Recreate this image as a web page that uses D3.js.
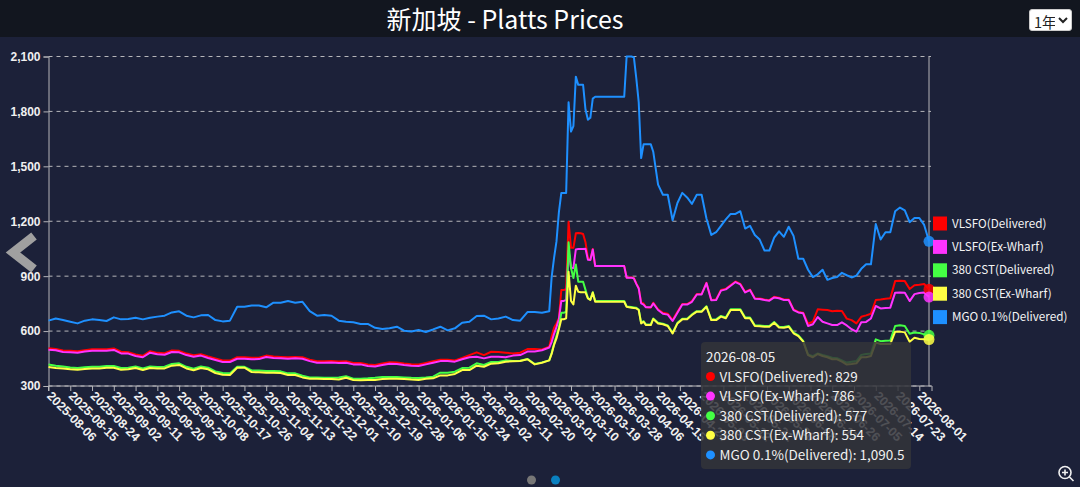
<!DOCTYPE html>
<html>
<head>
<meta charset="utf-8">
<script src="https://cdn.jsdelivr.net/npm/d3@7/dist/d3.min.js"></script>
<style>
body { margin: 0; background: #1c2139; overflow: hidden; }
svg { display: block; font-family: "Noto Sans CJK SC", "Noto Sans", sans-serif; }
.axis text { fill: #f0f0f0; font-size: 12px; font-weight: 700; }
.axis path, .axis line { stroke: #b5b5b9; }
.grid line { stroke: #b5b5b9; stroke-dasharray: 4 4; }
.line { fill: none; stroke-width: 2; stroke-linejoin: round; }
#range { position: absolute; left: 1029px; top: 9px; width: 43px; height: 22px; font-size: 14.5px; padding: 0; border: 1px solid #ccc; border-radius: 3px; background: #fff; color: #222; font-family: "Noto Sans CJK SC", sans-serif; }
</style>
</head>
<body>
<svg id="chart" width="1080" height="487"></svg>
<select id="range"><option>1年</option></select>
<script>
var startDate = new Date(2025, 7, 6);

var sampleDays = [
    0,3,6,9,12,15,18,21,24,27,30,33,36,39,42,45,48,51,54,57,60,63,66,69,72,75,78,81,84,87,90,93,96,99,102,105,
    108,111,114,117,120,123,126,129,132,135,138,141,144,147,150,153,156,159,162,165,168,171,174,177,180,183,186,189,192,195,198,201,204,
    207,208,209,210,211,212,213,214,215,216,217,218,219,220,221,222,223,224,225,226,
    229,232,235,238,
    239,240,241,242,243,244,245,246,247,248,249,250,
    252,254,256,258,260,262,264,266,268,270,
    272,274,276,278,280,282,284,286,288,290,
    292,294,296,298,300,302,304,306,308,310,
    312,314,316,318,320,322,324,326,328,330,
    332,334,336,338,340,342,344,346,348,350,
    352,354,356,358,360,362,364
];

var xTickLabels = [
    "2025-08-06","2025-08-15","2025-08-24","2025-09-02","2025-09-11","2025-09-20","2025-09-29","2025-10-08","2025-10-17",
    "2025-10-26","2025-11-04","2025-11-13","2025-11-22","2025-12-01","2025-12-10","2025-12-19","2025-12-28","2026-01-06",
    "2026-01-15","2026-01-24","2026-02-02","2026-02-11","2026-02-20","2026-03-01","2026-03-10","2026-03-19","2026-03-28",
    "2026-04-06","2026-04-15","2026-04-24","2026-05-03","2026-05-12","2026-05-21","2026-05-30","2026-06-08","2026-06-17",
    "2026-06-26","2026-07-05","2026-07-14","2026-07-23","2026-08-01"
];
var yTicks = [300, 600, 900, 1200, 1500, 1800, 2100];

var seriesNames = ["VLSFO(Delivered)", "VLSFO(Ex-Wharf)", "380 CST(Delivered)", "380 CST(Ex-Wharf)", "MGO 0.1%(Delivered)"];
var seriesColors = ["#ff0000", "#ff33ff", "#44ff44", "#ffff44", "#1e90ff"];
var hoverDate = "2026-08-05";

var vlsfoDelivered = [
    506,502,494,492,490,496,501,501,501,505,487,485,472,465,490,481,479,494,492,477,
    468,474,461,450,439,439,457,457,454,455,466,461,459,457,459,457,
    444,435,435,437,434,435,426,426,417,415,423,430,428,423,419,417,426,435,444,444,440,453,469,484,469,487,486,482,478,482,502,502,500,
    515,570,618,642,670,824,824,830,1197,1055,1055,1134,1136,1134,1130,1085,1000,990,1048,955,
    955,955,955,955,
    893,893,893,890,860,835,757,751,731,729,729,755,
    719,700,695,660,706,748,748,764,802,802,
    864,770,773,824,831,851,871,858,814,827,
    780,778,773,769,787,782,773,773,718,705,
    700,640,652,719,717,715,708,711,710,668,
    660,642,678,686,695,770,773,777,779,873,
    875,873,830,850,853,857,829
];
var vlsfoExWharf = [
    498,495,486,484,482,488,493,493,493,497,478,477,464,457,482,473,471,486,484,469,
    460,466,453,442,431,431,449,449,446,447,458,453,451,449,451,449,
    436,427,427,429,426,427,418,418,409,407,415,422,420,415,411,409,418,427,436,436,433,446,457,460,451,460,460,457,466,469,488,489,495,
    510,540,585,622,665,765,765,770,1040,945,945,1046,1048,1048,1048,1050,990,988,1046,955,
    955,955,955,955,
    891,891,891,888,858,833,751,745,730,730,730,751,
    715,695,690,655,700,745,745,760,800,800,
    862,768,770,821,828,848,868,855,811,824,
    777,775,770,766,784,779,770,770,715,702,
    697,628,637,677,651,642,633,633,648,631,
    610,597,648,650,669,737,724,726,728,810,
    811,810,764,802,808,811,786
];
var cstDelivered = [
    418,411,406,401,399,402,405,405,409,409,398,400,407,396,407,404,405,420,424,405,
    395,407,400,380,371,369,405,405,385,384,382,382,380,369,369,356,
    347,347,345,345,346,353,340,340,342,345,349,349,349,347,345,344,347,351,373,373,378,398,400,424,415,431,431,440,437,438,448,420,429,
    440,480,530,575,620,700,700,705,1085,945,890,964,870,870,870,825,780,772,812,765,
    765,765,765,765,
    735,733,731,729,727,718,645,654,636,636,636,669,
    645,640,631,590,645,667,667,691,709,709,
    736,663,664,683,674,719,719,719,674,674,
    632,630,628,628,650,624,622,628,592,577,
    546,473,463,478,470,463,455,452,440,428,
    432,436,470,475,478,555,545,547,548,628,
    632,628,585,592,590,582,577
];
var cstExWharf = [
    404,398,395,391,389,393,396,396,400,400,389,391,398,387,398,395,396,411,415,396,
    386,398,391,371,362,360,400,400,376,375,373,373,371,360,360,347,
    340,340,338,338,336,345,333,331,333,333,338,340,340,338,335,333,340,342,358,358,366,387,387,411,405,422,424,433,435,437,446,418,427,
    440,475,525,560,610,664,664,670,924,765,746,848,815,812,812,812,779,770,811,760,
    760,760,760,760,
    733,730,728,726,724,715,642,651,633,633,633,666,
    642,637,628,587,642,664,664,688,706,706,
    733,660,660,679,670,715,715,715,670,670,
    628,626,624,624,646,620,618,624,588,573,
    542,469,457,475,464,457,446,446,433,417,
    420,424,457,457,464,537,529,529,529,597,
    597,593,542,564,557,555,554
];
var mgoDelivered = [
    657,669,660,651,642,657,664,660,655,675,664,666,673,664,673,679,684,702,708,684,
    675,686,688,660,653,657,733,733,740,740,730,755,755,764,755,760,
    709,684,688,684,657,651,648,639,639,618,611,615,624,602,598,606,595,609,624,604,615,646,651,682,684,664,669,679,660,657,704,704,700,
    708,895,1000,1090,1250,1355,1355,1355,1850,1690,1720,1990,1945,1945,1945,1810,1755,1765,1870,1880,
    1880,1880,1880,1880,
    2100,2100,2100,2095,1980,1850,1545,1620,1620,1620,1620,1580,
    1400,1345,1345,1205,1300,1355,1330,1295,1345,1345,
    1215,1125,1140,1175,1210,1240,1240,1255,1160,1175,
    1125,1100,1040,1040,1110,1145,1115,1170,1120,995,
    995,935,895,910,935,880,890,895,918,905,
    893,903,940,965,965,1185,1100,1140,1140,1255,
    1275,1260,1195,1218,1218,1180,1090.5
];
var seriesValues = [vlsfoDelivered, vlsfoExWharf, cstDelivered, cstExWharf, mgoDelivered];

var svg = d3.select("#chart");
var parseDay = d3.timeParse("%Y-%m-%d");
var dates = sampleDays.map(function(d) {
    return d3.timeDay.offset(startDate, d);
});

var x = d3.scaleTime()
    .domain([startDate, parseDay(hoverDate)])
    .range([48.5, 929]);
var y = d3.scaleLinear()
    .domain([300, 2100])
    .range([386, 56.5]);

// header
svg.append("rect").attr("width", 1080).attr("height", 37).attr("fill", "#12161f");
svg.append("text")
    .attr("x", 505)
    .attr("y", 29)
    .attr("text-anchor", "middle")
    .attr("fill", "#fff")
    .style("font-size", "25px")
    .text("新加坡 - Platts Prices");

// grid
svg.append("g")
    .attr("class", "grid")
    .selectAll("line")
    .data(yTicks)
    .enter().append("line")
    .attr("x1", 48.5)
    .attr("x2", 931)
    .attr("y1", function(d) { return y(d); })
    .attr("y2", function(d) { return y(d); });

// axes
svg.append("g")
    .attr("class", "axis")
    .attr("transform", "translate(48.5,0)")
    .call(d3.axisLeft(y).tickValues(yTicks).tickSize(5).tickPadding(3).tickFormat(d3.format(",")));

var xAxis = svg.append("g")
    .attr("class", "axis")
    .attr("transform", "translate(0,386)")
    .call(d3.axisBottom(x)
        .tickValues(xTickLabels.map(parseDay))
        .tickSize(5)
        .tickFormat(d3.timeFormat("%Y-%m-%d")));
xAxis.select(".domain").attr("d", "M48.5,5V0H932V5");
xAxis.selectAll("text")
    .attr("text-anchor", "start")
    .attr("dy", null)
    .attr("x", 0)
    .attr("y", 0)
    .attr("transform", "translate(0,8) rotate(45)")
    .style("font-size", "12.5px")
    .attr("dominant-baseline", "central");

// hover line
svg.append("line")
    .attr("x1", x(parseDay(hoverDate)))
    .attr("x2", x(parseDay(hoverDate)))
    .attr("y1", y(2100))
    .attr("y2", y(300))
    .attr("stroke", "#b5b5b9");

// lines
var line = d3.line()
    .x(function(d, i) { return x(dates[i]); })
    .y(function(d) { return y(d); });

svg.selectAll(".line")
    .data(seriesValues)
    .enter().append("path")
    .attr("class", "line")
    .attr("stroke", function(d, i) { return seriesColors[i]; })
    .attr("d", line);

// end dots
svg.selectAll(".end")
    .data(seriesValues)
    .enter().append("circle")
    .attr("class", "end")
    .attr("cx", x(parseDay(hoverDate)))
    .attr("cy", function(d) { return y(d[d.length - 1]); })
    .attr("r", 5.5)
    .attr("fill", function(d, i) { return seriesColors[i]; })
    .attr("fill-opacity", 0.85);

// legend
var legend = svg.selectAll(".legend")
    .data(seriesNames)
    .enter().append("g")
    .attr("class", "legend")
    .attr("transform", function(d, i) { return "translate(933," + (216.5 + i * 23.4) + ")"; });
legend.append("rect")
    .attr("width", 14)
    .attr("height", 14)
    .attr("fill", function(d, i) { return seriesColors[i]; });
legend.append("text")
    .attr("x", 19)
    .attr("y", 11)
    .attr("fill", "#f4f4f4")
    .style("font-size", "11.7px")
    .text(function(d) { return d; });

// tooltip
var tip = svg.append("g").attr("transform", "translate(701,342)");
tip.append("rect")
    .attr("width", 210)
    .attr("height", 127)
    .attr("rx", 4)
    .attr("fill", "#32343a")
    .attr("fill-opacity", 0.85);
tip.append("text")
    .attr("x", 5)
    .attr("y", 20)
    .attr("fill", "#f0f0f0")
    .style("font-size", "13.5px")
    .text(hoverDate);
var rows = tip.selectAll(".row")
    .data(seriesNames)
    .enter().append("g")
    .attr("class", "row")
    .attr("transform", function(d, i) { return "translate(0," + (34.5 + i * 19.6) + ")"; });
rows.append("circle")
    .attr("cx", 9.5)
    .attr("r", 4.5)
    .attr("fill", function(d, i) { return seriesColors[i]; });
rows.append("text")
    .attr("x", 18.5)
    .attr("y", 5)
    .attr("fill", "#f0f0f0")
    .style("font-size", "13.5px")
    .text(function(d, i) {
        var v = seriesValues[i];
        return d + ": " + d3.format(",")(v[v.length - 1]);
    });

// carousel arrow and dots
svg.append("path")
    .attr("d", d3.line()([[34, 236], [13, 252.5], [34, 269]]))
    .attr("fill", "none")
    .attr("stroke", "#a0a0a0")
    .attr("stroke-width", 9);
svg.append("circle").attr("cx", 531.5).attr("cy", 480).attr("r", 4.5).attr("fill", "#777");
svg.append("circle").attr("cx", 555.5).attr("cy", 480).attr("r", 4.5).attr("fill", "#0a80c0");

// zoom icon
var icon = svg.append("g")
    .attr("transform", "translate(1065,472.5)")
    .attr("fill", "none")
    .attr("stroke", "#f0f0f0")
    .attr("stroke-width", 1.6);
icon.append("circle").attr("r", 6);
icon.append("path").attr("d", "M-3,0H3M0,-3V3M4.5,4.5L8.5,8.5");
</script>
</body>
</html>
